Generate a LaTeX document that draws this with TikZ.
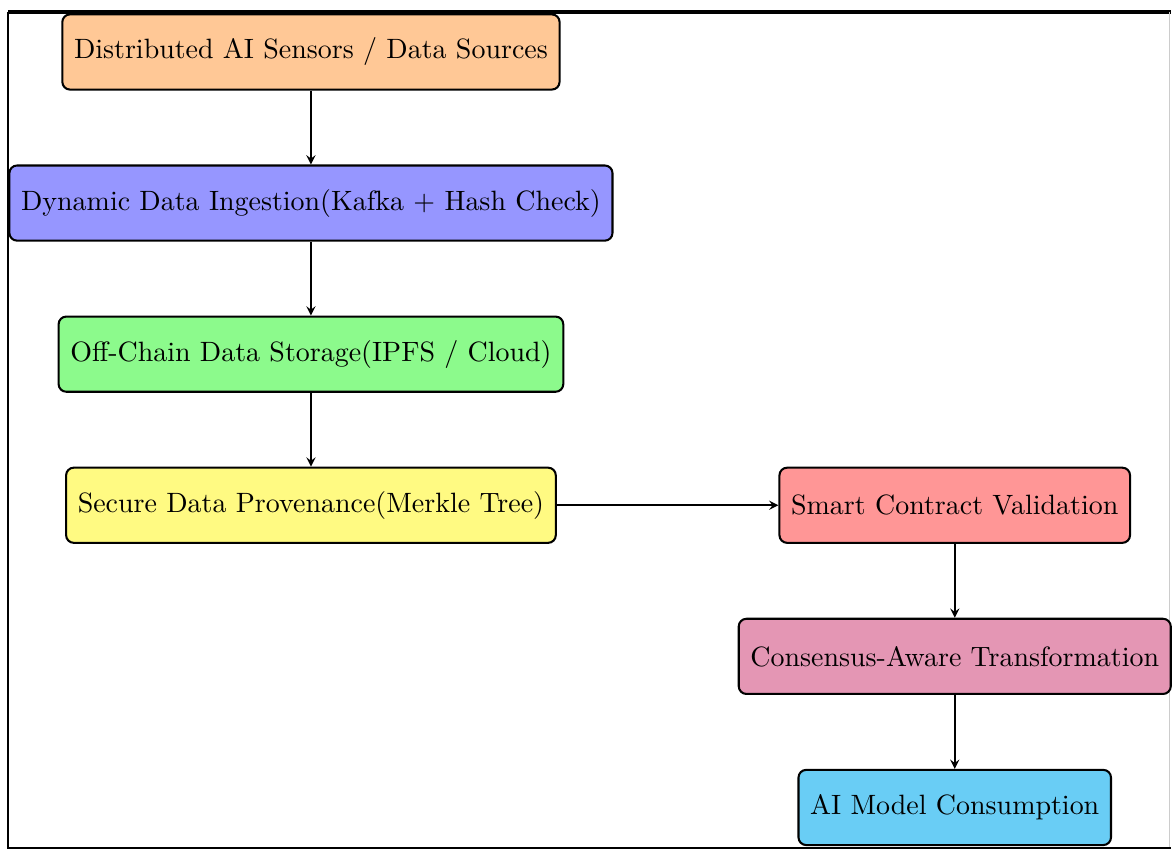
\documentclass[tikz,border=0pt]{standalone}
\usepackage{xcolor}
\usepackage{tikz}
\usetikzlibrary{positioning,arrows}
\definecolor{srcorange}{RGB}{255,200,150}
\definecolor{ingblue}{RGB}{150,150,255}
\definecolor{stogreen}{RGB}{140,250,140}
\definecolor{provyellow}{RGB}{255,250,130}
\definecolor{valred}{RGB}{255,150,150}
\definecolor{conspink}{RGB}{228,150,180}
\definecolor{modcyan}{RGB}{105,205,245}
\tikzset{stage/.style={draw,thick,rounded corners=3pt,minimum height=10.3mm,inner xsep=1.6mm,
  font=\fontsize{10.9}{13}\selectfont}}

\begin{document}
\begin{tikzpicture}[node distance = 20.7mm]
 \useasboundingbox (-4.26,0.712) rectangle (11.81,-10.93);
 % frame of the page
 \draw[line width=1.4pt] (-4.15,0.55) -- (11.78,0.55);
 \draw[gray!40] (11.76,0.55) -- (11.76,-10.9);
 \draw[line width=0.8pt] (-4.15,0.55) -- (-4.15,-10.9) -- (11.78,-10.9);

 \node[stage,fill=srcorange] (n0) {Distributed AI Sensors / Data Sources};
  \node[stage,fill=ingblue,below of=n0] (n1) {Dynamic Data Ingestion(Kafka + Hash Check)};
  \node[stage,fill=stogreen,below of=n1] (n2) {Off-Chain Data Storage(IPFS / Cloud)};
  \node[stage,fill=provyellow,below of=n2] (n3) {Secure Data Provenance(Merkle Tree)};
  \node[stage,fill=valred,right of=n3,node distance=88.2mm] (n4) {Smart Contract Validation};
  \node[stage,fill=conspink,below of=n4] (n5) {Consensus-Aware Transformation};
  \node[stage,fill=modcyan,below of=n5] (n6) {AI Model Consumption};

  \draw [->,semithick,>=stealth] (n0) -- (n1);
  \draw [->,semithick,>=stealth] (n1) -- (n2);
  \draw [->,semithick,>=stealth] (n2) -- (n3);
  \draw [->,semithick,>=stealth] (n3) -- (n4);
  \draw [->,semithick,>=stealth] (n4) -- (n5);
  \draw [->,semithick,>=stealth] (n5) -- (n6);

\end{tikzpicture}
\end{document}
